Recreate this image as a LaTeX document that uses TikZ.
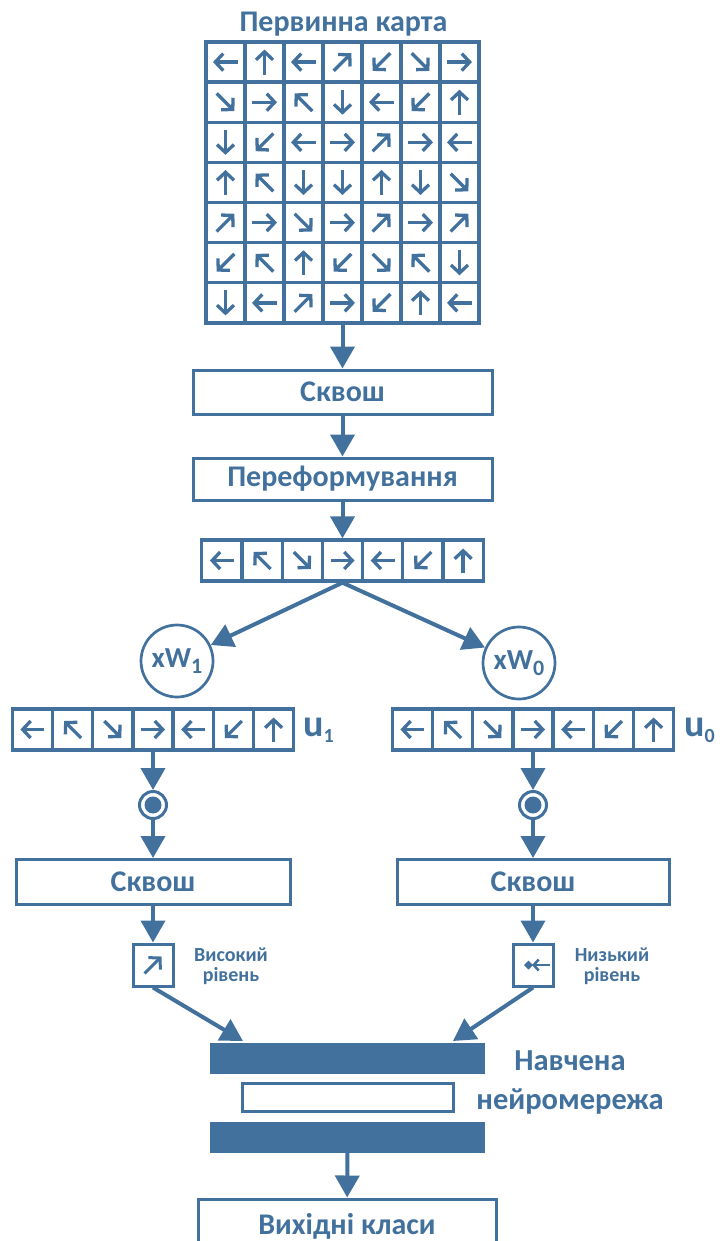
\documentclass[tikz,border=0pt]{standalone}
\usepackage{fontspec}
\setmainfont{Carlito}
\usetikzlibrary{arrows.meta,positioning,calc}
\definecolor{sovblue}{RGB}{65,113,156}

\begin{document}
\begin{tikzpicture}[x=1pt,y=-1pt,
  every node/.style={text=sovblue,font=\bfseries\fontsize{30}{32}\selectfont},
  box/.style={draw=sovblue,line width=3pt,minimum width=299pt,minimum height=44pt,inner sep=0pt},
  vecbox/.style={draw=sovblue,line width=3.3pt,inner sep=0pt},
  cellline/.style={draw=sovblue,line width=3.3pt},
  cellarrow/.style={draw=sovblue,line width=3.3pt,-{Straight Barb[length=8pt,width=17pt]}},
  flow/.style={draw=sovblue,line width=4pt,-{Triangle[length=22pt,width=24pt]}},
  weight/.style={circle,draw=sovblue,line width=2.7pt,minimum size=72pt,inner sep=0pt,font=\bfseries\fontsize{29}{30}\selectfont},
  hub/.style={circle,draw=sovblue,line width=3pt,minimum size=27pt,inner sep=0pt},
  level/.style={draw=sovblue,line width=3pt,minimum width=40pt,minimum height=42pt,inner sep=0pt},
  tag/.style={align=center,font=\bfseries\fontsize{20}{20.5}\selectfont},
  netbar/.style={fill=sovblue,minimum width=275pt,minimum height=31pt,inner sep=0pt},
  ulabel/.style={anchor=west,inner sep=0pt,font=\bfseries\fontsize{38}{38}\selectfont}]
\useasboundingbox (0,0) rectangle (724,1241);
\clip (0,0) rectangle (724,1241);

% primary map
\node[anchor=base] (title) at (343.5,32) {Первинна карта};
\node[vecbox,minimum width=273pt,minimum height=281pt] (map) at (342.5,182.5) {};
\foreach \i in {1,...,6} {
  \draw[cellline] (206+39*\i,42) -- (206+39*\i,323);
  \draw[cellline] (206,42+40.14*\i) -- (479,42+40.14*\i);
}
\foreach \row [count=\j] in {{180,90,180,45,225,315,0},{315,0,135,270,180,225,90},
  {270,225,180,0,45,0,180},{90,135,270,270,90,270,315},{45,0,315,0,45,0,45},
  {225,135,90,225,315,135,270},{270,180,45,0,225,90,180}}
  \foreach \a [count=\i] in \row
    \draw[cellarrow,shift={(206+39*\i-19.5,42+40.14*\j-20.07)},rotate=\a] (-12.5,0) -- (12.5,0);

\node[box] (sq1) at (342.5,392) {Сквош};
\node[box,minimum height=42pt] (reshape) at (342.5,479) {Переформування};

% vectors
\node[vecbox,minimum width=281.4pt,minimum height=41pt] (flat) at (342.5,560.5) {};
\node[vecbox,minimum width=281.4pt,minimum height=41pt] (u1) at (153,729.5) {};
\node[vecbox,minimum width=281.4pt,minimum height=41pt] (u0) at (533,729.5) {};
\foreach \sx/\sy in {201.8/540,12.3/709,392.3/709} {
  \foreach \i in {1,...,6}
    \draw[cellline] (\sx+40.2*\i,\sy) -- (\sx+40.2*\i,\sy+41);
  \foreach \a [count=\i] in {180,135,315,0,180,225,90}
    \draw[cellarrow,shift={(\sx+40.2*\i-20.1,\sy+20.5)},rotate=\a] (-12,0) -- (12,0);
}
\node[ulabel] (u1lab) at (303,730) {u{\fontsize{20}{20}\selectfont\raisebox{-6pt}{1}}};
\node[ulabel] (u0lab) at (684,730) {u{\fontsize{20}{20}\selectfont\raisebox{-6pt}{0}}};

\node[weight] (w1) at (177,661) {xW{\fontsize{22}{22}\selectfont\raisebox{-6pt}{1}}};
\node[weight] (w0) at (519,663) {xW{\fontsize{22}{22}\selectfont\raisebox{-6pt}{0}}};

% two branches
\node[hub] (dot1) at (153,805) {};
\node[hub] (dot0) at (533,805) {};
\fill[sovblue] (dot1.center) circle (8.5pt);
\fill[sovblue] (dot0.center) circle (8.5pt);
\node[box,minimum width=274pt,minimum height=45pt] (sqL) at (153,882) {Сквош};
\node[box,minimum width=272pt,minimum height=45pt] (sqR) at (533,882) {Сквош};
\node[level] (hiL) at (153,965) {};
\node[level] (loR) at (533,965) {};
\draw[cellarrow,line width=3pt,shift={(hiL.center)},rotate=45] (-12,0) -- (12,0);
\draw[sovblue,line width=2.5pt,-{Straight Barb[length=5pt,width=11pt]}] ($(loR)+(17,0)$) -- ($(loR)+(-1,0)$);
\fill[sovblue] ($(loR)+(-9,0)$) -- ++(4.5,-4.5) -- ++(4.5,4.5) -- ++(-4.5,4.5) -- cycle;
\node[tag] (hiLtxt) at (231,966) {Високий\\рівень};
\node[tag] (loRtxt) at (612,966) {Низький\\рівень};

% trained network
\node[netbar] (nettop) at (347.5,1058.5) {};
\node[draw=sovblue,line width=3pt,minimum width=211pt,minimum height=28pt,inner sep=0pt] (netmid) at (348,1097.5) {};
\node[netbar] (netbot) at (347.5,1137.5) {};
\node[align=center,font=\bfseries\fontsize{30.5}{39}\selectfont] (nettxt) at (570,1082) {Навчена\\нейромережа};
\coordinate (inL) at (243,1041);
\coordinate (inR) at (453,1041);
\node[box,minimum width=298pt,minimum height=54pt] (out) at (347,1226) {Вихідні класи};

\draw[flow] (map) -- (sq1);
\draw[flow] (sq1) -- (reshape);
\draw[flow] (reshape) -- (flat);
\draw[flow] (flat.south) -- (w1);
\draw[flow] (flat.south) -- (w0);
\draw[flow] (u1) -- (dot1);
\draw[flow] (u0) -- (dot0);
\draw[flow] (dot1) -- (sqL);
\draw[flow] (dot0) -- (sqR);
\draw[flow] (sqL) -- (hiL);
\draw[flow] (sqR) -- (loR);
\draw[flow] (hiL.south) -- (inL);
\draw[flow] (loR.south) -- (inR);
\draw[flow] (netbot) -- (out);
\end{tikzpicture}
\end{document}
